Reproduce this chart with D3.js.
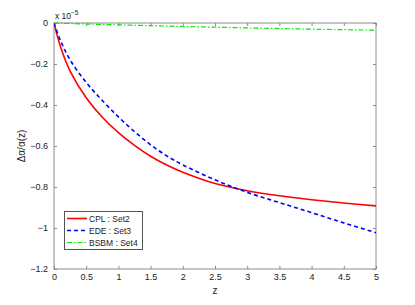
<!DOCTYPE html>
<html><head><meta charset="utf-8">
<script src="https://cdn.jsdelivr.net/npm/d3@7"></script>
<style>body{margin:0;background:#fff;}svg{display:block;font-family:"Liberation Sans",Arial,sans-serif;}</style>
</head><body>
<svg id="c" width="415" height="305"></svg>
<script>
const zGrid = [0, 0.1, 0.25, 0.5, 0.75, 1, 1.25, 1.5, 1.75, 2, 2.5, 3, 3.5, 4, 4.5, 5];
const cplSet2 = [0, -0.115, -0.235, -0.365, -0.46, -0.535, -0.597, -0.65, -0.693, -0.728, -0.783, -0.818, -0.843, -0.862, -0.878, -0.892];
const edeSet3 = [0, -0.085, -0.18, -0.29, -0.378, -0.458, -0.53, -0.594, -0.648, -0.692, -0.765, -0.826, -0.876, -0.925, -0.975, -1.023];
const bsbmSet4 = [0, -0.001, -0.0025, -0.005, -0.007, -0.009, -0.011, -0.013, -0.015, -0.017, -0.0205, -0.024, -0.027, -0.030, -0.0325, -0.035];
const xTicks = [0, 0.5, 1, 1.5, 2, 2.5, 3, 3.5, 4, 4.5, 5];
const yTicks = [0, -0.2, -0.4, -0.6, -0.8, -1, -1.2];
const seriesNames = ["CPL : Set2", "EDE : Set3", "BSBM : Set4"];

const svg = d3.select("#c");
const L = 54, R = 376, T = 23, B = 269;
const x = d3.scaleLinear().domain([0, 5]).range([L, R]);
const y = d3.scaleLinear().domain([-1.2, 0]).range([B, T]);
const axisCol = "#8c8c8c";

svg.append("rect").attr("x", L).attr("y", T).attr("width", R - L).attr("height", B - T)
  .attr("fill", "none").attr("stroke", axisCol).attr("stroke-width", 1);

const fmt = v => v === 0 ? "0" : String(v).replace("-", "\u2212");

const xb = svg.append("g").attr("transform", `translate(0,${B})`)
  .call(d3.axisBottom(x).tickValues(xTicks).tickSize(-3).tickPadding(6).tickFormat(d => String(d)));
const xt = svg.append("g").attr("transform", `translate(0,${T})`)
  .call(d3.axisTop(x).tickValues(xTicks).tickSize(-3).tickFormat(""));
const yl = svg.append("g").attr("transform", `translate(${L},0)`)
  .call(d3.axisLeft(y).tickValues(yTicks).tickSize(-3).tickPadding(6).tickFormat(fmt));
const yr = svg.append("g").attr("transform", `translate(${R},0)`)
  .call(d3.axisRight(y).tickValues(yTicks).tickSize(-3).tickFormat(""));
[xb, xt, yl, yr].forEach(g => {
  g.select(".domain").remove();
  g.selectAll(".tick line").attr("stroke", axisCol);
  g.selectAll("text").attr("fill", "#222").style("font-size", "9px").style("font-family", '"Liberation Sans",Arial,sans-serif');
});
xb.selectAll("text").attr("dy", "0.6em");

const ex = svg.append("text").attr("x", 55).attr("y", 19).attr("fill", "#222").style("font-size", "8.5px");
ex.append("tspan").text("x 10");
ex.append("tspan").attr("dy", -4).style("font-size", "6.5px").text("\u22125");

svg.append("text").attr("x", (L + R) / 2).attr("y", 294).attr("text-anchor", "middle")
  .attr("fill", "#222").style("font-size", "10px").text("z");
svg.append("text").attr("transform", "translate(25,146) rotate(-90)").attr("text-anchor", "middle")
  .attr("fill", "#222").style("font-size", "10px").text("\u0394\u03B1/\u03B1(z)");

const line = d3.line().x((d, i) => x(zGrid[i])).y(d => y(d)).curve(d3.curveCatmullRom.alpha(0.5));
const styles = [
  {data: cplSet2, color: "#ff0000", w: 1.6, dash: null},
  {data: edeSet3, color: "#0000ff", w: 1.6, dash: "4,3"},
  {data: bsbmSet4, color: "#00ee00", w: 1.2, dash: "5,2,1.5,2"}
];
svg.append("clipPath").attr("id", "cp").append("rect")
  .attr("x", L).attr("y", T - 2).attr("width", R - L + 1).attr("height", B - T + 2);
styles.forEach(s => {
  svg.append("path").attr("d", line(s.data)).attr("fill", "none")
    .attr("stroke", s.color).attr("stroke-width", s.w)
    .attr("stroke-dasharray", s.dash).attr("clip-path", "url(#cp)");
});

const lg = svg.append("g");
lg.append("rect").attr("x", 64.5).attr("y", 211.5).attr("width", 78).attr("height", 38)
  .attr("fill", "#fff").attr("stroke", "#555").attr("stroke-width", 1);
styles.forEach((s, i) => {
  const yy = 218.5 + i * 12;
  lg.append("line").attr("x1", 67).attr("x2", 87).attr("y1", yy).attr("y2", yy)
    .attr("stroke", s.color).attr("stroke-width", s.w).attr("stroke-dasharray", s.dash);
  lg.append("text").attr("x", 89).attr("y", yy + 3.2).attr("fill", "#222")
    .style("font-size", "8.5px").text(seriesNames[i]);
});
</script>
</body></html>
